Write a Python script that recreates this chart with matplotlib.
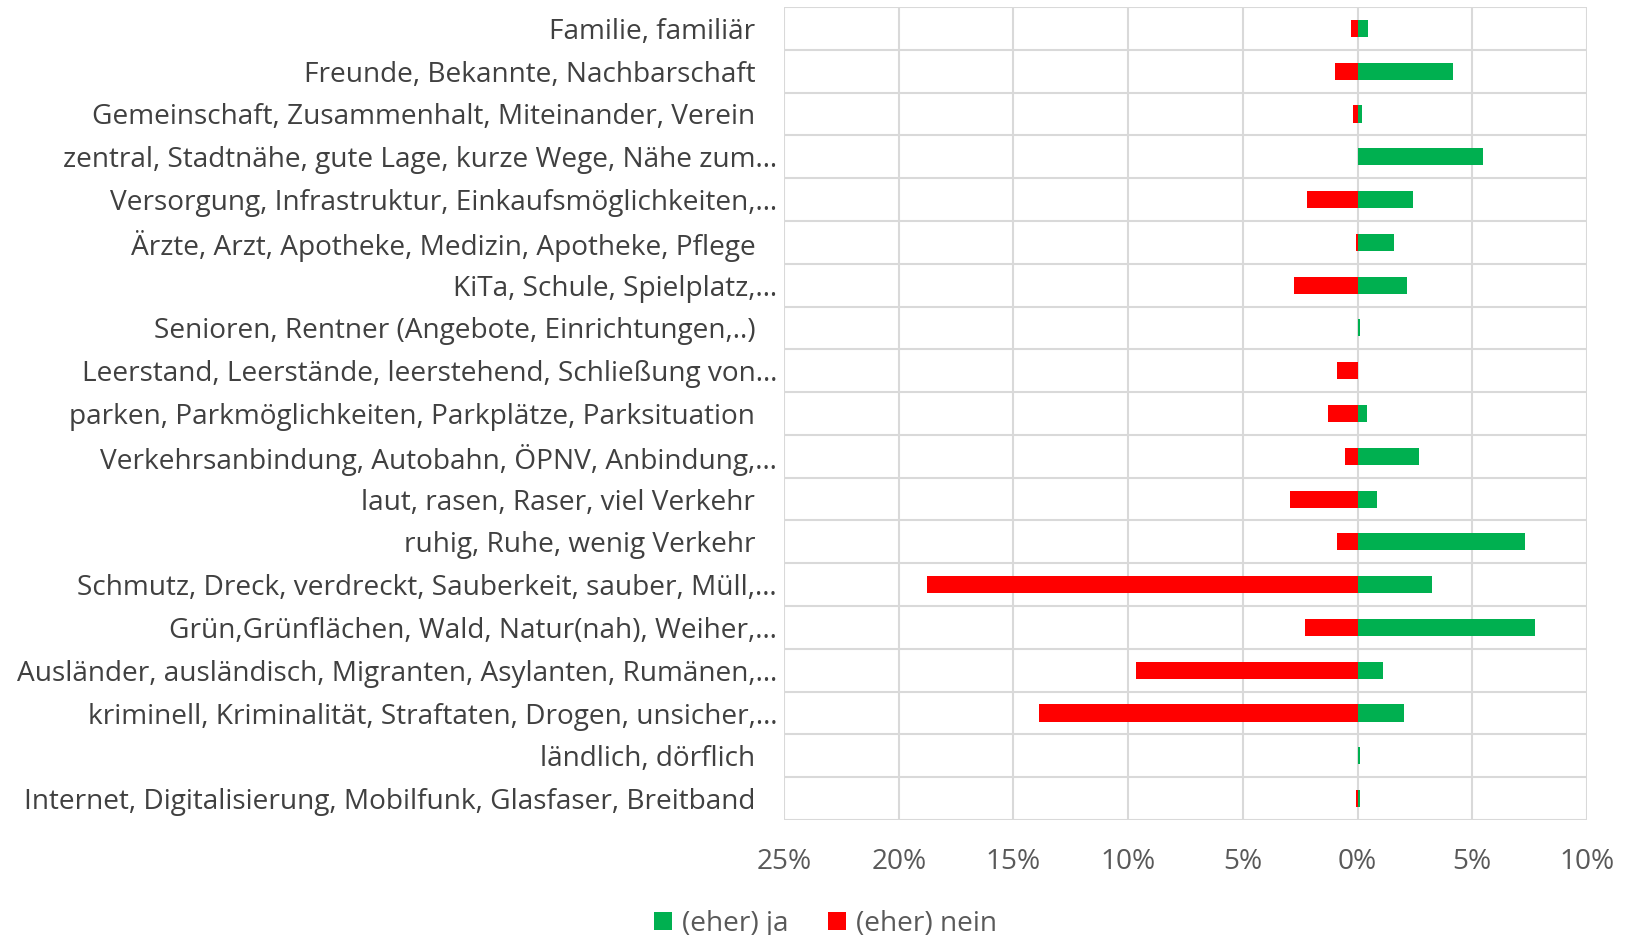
import matplotlib
matplotlib.use("Agg")
import matplotlib.pyplot as plt
from matplotlib.ticker import FuncFormatter, MultipleLocator
import numpy as np

# category labels, top to bottom (as in the chart, truncated ones end with …)
categories = [
    "Familie, familiär",
    "Freunde, Bekannte, Nachbarschaft",
    "Gemeinschaft, Zusammenhalt, Miteinander, Verein",
    "zentral, Stadtnähe, gute Lage, kurze Wege, Nähe zum…",
    "Versorgung, Infrastruktur, Einkaufsmöglichkeiten,…",
    "Ärzte, Arzt, Apotheke, Medizin, Apotheke, Pflege",
    "KiTa, Schule, Spielplatz,…",
    "Senioren, Rentner (Angebote, Einrichtungen,..)",
    "Leerstand, Leerstände, leerstehend, Schließung von…",
    "parken, Parkmöglichkeiten, Parkplätze, Parksituation",
    "Verkehrsanbindung, Autobahn, ÖPNV, Anbindung,…",
    "laut, rasen, Raser, viel Verkehr",
    "ruhig, Ruhe, wenig Verkehr",
    "Schmutz, Dreck, verdreckt, Sauberkeit, sauber, Müll,…",
    "Grün,Grünflächen, Wald, Natur(nah), Weiher,…",
    "Ausländer, ausländisch, Migranten, Asylanten, Rumänen,…",
    "kriminell, Kriminalität, Straftaten, Drogen, unsicher,…",
    "ländlich, dörflich",
    "Internet, Digitalisierung, Mobilfunk, Glasfaser, Breitband",
]

# share of answers in %
ja = [0.47, 4.15, 0.2, 5.45, 2.4, 1.58, 2.14, 0.1, 0.0, 0.39,
      2.68, 0.84, 7.29, 3.23, 7.75, 1.13, 2.04, 0.1, 0.1]
nein = [0.27, 1.0, 0.19, 0.0, 2.2, 0.07, 2.75, 0.0, 0.9, 1.27,
        0.54, 2.94, 0.9, 18.77, 2.29, 9.67, 13.9, 0.0, 0.07]

series_names = ["(eher) ja", "(eher) nein"]

plt.rcParams['font.family'] = ['Open Sans', 'DejaVu Sans']

fig = plt.figure(figsize=(16.28, 9.35), dpi=100)
ax = fig.add_axes([0.4816, 0.123, 0.4932, 0.8695])

y = np.arange(len(categories))
h = 0.4
ax.barh(y, ja, height=h, color="#00B050", label=series_names[0], zorder=3)
ax.barh(y, [-v for v in nein], height=h, color="#FF0000", label=series_names[1], zorder=3)

ax.set_xlim(-25, 10)
ax.set_ylim(len(categories) - 0.5, -0.5)
ax.xaxis.set_major_locator(MultipleLocator(5))
ax.xaxis.set_major_formatter(FuncFormatter(lambda v, p: f"{abs(v):.0f}%"))

ax.set_yticks(y)
# Excel keeps a trailing space on the labels that are not cut off
ax.set_yticklabels([c if c.endswith("…") else c + "   " for c in categories])
# category separators
ax.set_yticks(np.arange(-0.5, len(categories), 1), minor=True)
ax.grid(axis="y", which="minor", color="#d9d9d9", linewidth=1.5, zorder=0)
ax.grid(axis="x", which="major", color="#d9d9d9", linewidth=1.5, zorder=0)

for s in ax.spines.values():
    s.set_visible(False)
ax.tick_params(axis="both", which="both", length=0)
ax.tick_params(axis="y", labelsize=20.2, labelcolor="#404040", pad=5)
ax.tick_params(axis="x", labelsize=20.2, labelcolor="#595959", pad=20)

fig.legend(loc="center", bbox_to_anchor=(0.507, 0.012), ncol=2, frameon=False,
           fontsize=20.2, labelcolor="#595959", handlelength=0.65, handleheight=0.65,
           handletextpad=0.35, columnspacing=1.4)

fig.savefig("out.png", dpi=100)
